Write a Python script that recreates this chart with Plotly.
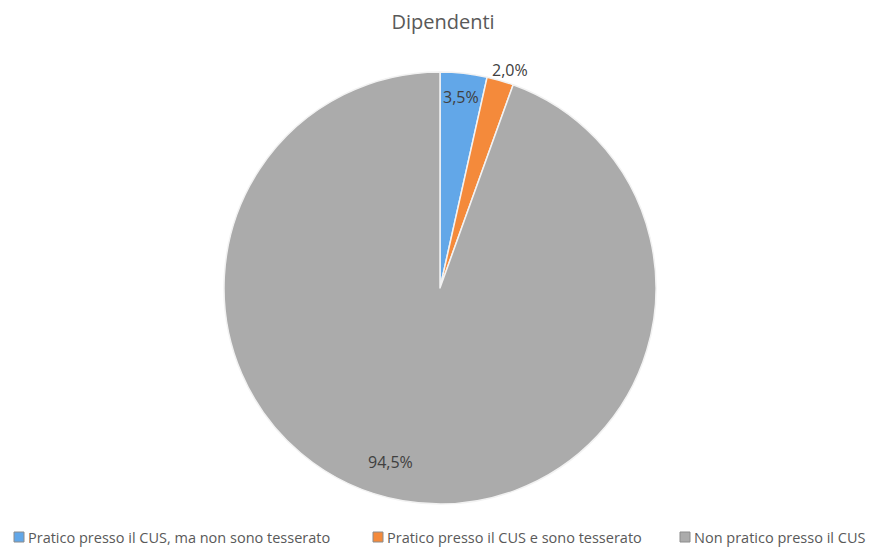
import math
import plotly.graph_objects as go

categories = ["Pratico presso il CUS, ma non sono tesserato",
              "Pratico presso il CUS e sono tesserato",
              "Non pratico presso il CUS"]
values = [3.5, 2.0, 94.5]
colors = ["#62A7E8", "#F48A3B", "#ABABAB"]
title_text = "Dipendenti"

# figure sits at (8, 8) in the page because of the default body margin
OFF = 8
W, H = 868, 539
cx, cy, R = 440, 288, 216  # pie centre / radius in screen pixels


def px(sx):
    return (sx - OFF) / W


def py(sy):
    return 1 - (sy - OFF) / H


fig = go.Figure(go.Pie(
    labels=categories, values=values, sort=False, direction="clockwise",
    rotation=0, marker=dict(colors=colors, line=dict(color="#F2F2F2", width=1.5)),
    textinfo="none", hoverinfo="label+percent", showlegend=False,
    domain=dict(x=[px(cx - R), px(cx + R)], y=[py(cy + R), py(cy - R)]),
))

# data labels placed along slice mid-angles
label_r = [0.89, 1.06, 0.84]
angle_shift = [0, 1.5, 6]
total = sum(values)
cum = 0
for v, rf, sh in zip(values, label_r, angle_shift):
    mid = (cum + v / 2) / total * 360 + sh
    cum += v
    x = cx + rf * R * math.sin(math.radians(mid))
    y = cy - rf * R * math.cos(math.radians(mid))
    fig.add_annotation(x=px(x), y=py(y), xref="paper", yref="paper",
                       xanchor="center", yanchor="middle",
                       text=f"{v:.1f}%".replace(".", ","), showarrow=False,
                       font=dict(family="Open Sans", size=16, color="#404040"))

# legend drawn as square swatches + text (Excel style: swatch touching text)
legend_x = [14, 373, 680]
legend_y = 537
sw = 10
for name, col, lx in zip(categories, colors, legend_x):
    fig.add_shape(type="rect", xref="paper", yref="paper",
                  x0=px(lx), x1=px(lx + sw), y0=py(legend_y + sw / 2), y1=py(legend_y - sw / 2),
                  fillcolor=col, line=dict(color="#8C8C8C", width=1))
    fig.add_annotation(x=px(lx + sw + 2), y=py(legend_y), xref="paper", yref="paper",
                       xanchor="left", yanchor="middle", text=name, showarrow=False,
                       font=dict(family="Open Sans", size=14.5, color="#595959"))

fig.update_layout(
    width=W, height=H, margin=dict(l=0, r=0, t=0, b=0),
    paper_bgcolor="white", plot_bgcolor="white", showlegend=False,
    title=dict(text=title_text, x=px(443), xanchor="center", y=py(22), yanchor="middle",
               font=dict(family="Open Sans", size=20, color="#595959")),
)

fig.write_html("out.html")
